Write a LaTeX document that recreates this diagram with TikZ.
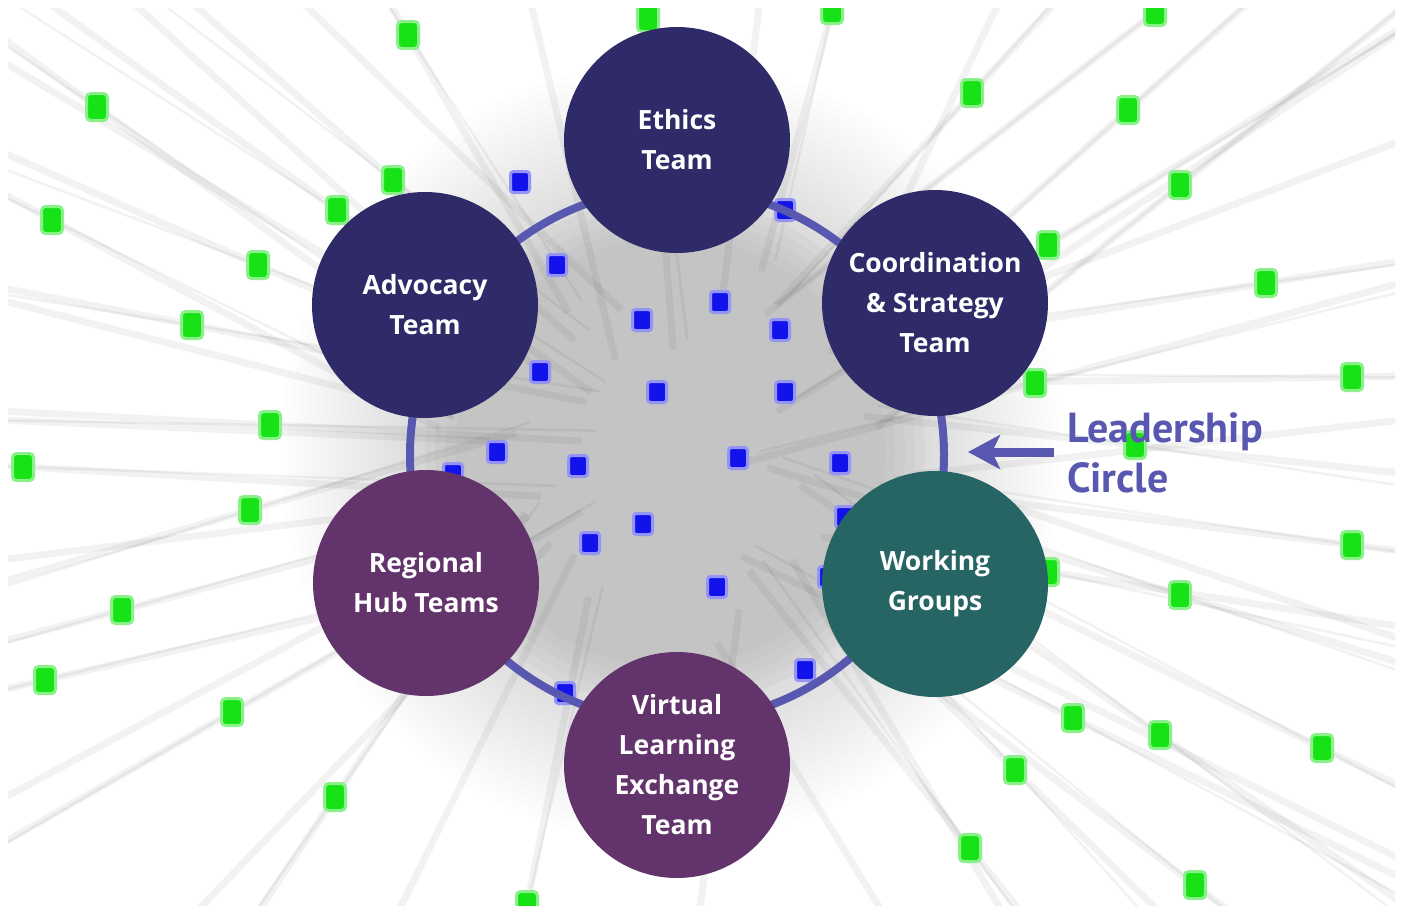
\documentclass[tikz,border=0pt]{standalone}
\usepackage{fontspec}
\setmainfont{PT Sans}
\newfontfamily\teamfont{Open Sans}
\usetikzlibrary{arrows.meta,calc}
\definecolor{navy}{RGB}{46,43,104}
\definecolor{plum}{RGB}{99,52,108}
\definecolor{tealc}{RGB}{38,101,100}
\definecolor{ringc}{RGB}{88,88,176}
\definecolor{greencol}{RGB}{22,226,22}
\definecolor{bluecol}{RGB}{18,18,235}
\tikzset{
  team/.style={circle, minimum size=226pt, inner sep=0pt, text=white, align=center,
    font=\teamfont\bfseries\fontsize{26.5}{40}\selectfont},
  gd/.style={rectangle, fill=greencol, minimum width=21pt, minimum height=27pt, inner sep=0pt,
    rounded corners=4pt, draw=greencol!50!white, line width=3pt},
  bd/.style={rectangle, fill=bluecol, minimum width=19pt, minimum height=21pt, inner sep=0pt,
    rounded corners=3pt, draw=bluecol!45!white, line width=3pt},
  bgline/.style={draw=black, draw opacity=0.05, line width=7pt},
  bglinethin/.style={draw=black, draw opacity=0.05, line width=2.5pt},
  blobring/.style={fill=black, fill opacity=0.006},
  blobcore/.style={fill=black, fill opacity=0.018},
  ringline/.style={draw=ringc, line width=8pt},
  leadarrow/.style={draw=ringc, line width=9pt, -{Stealth[length=32pt,width=34pt,inset=8pt]}},
  leadtext/.style={text=ringc, inner sep=0pt, font=\bfseries\fontsize{42}{50}\selectfont}
}
\begin{document}
\begin{tikzpicture}[x=1pt,y=-1pt]
\useasboundingbox (0,0) rectangle (1403,908);
\fill[white] (0,0) rectangle (1403,908);
\begin{scope}
\clip (8,8) rectangle (1395,905);
% soft grey blob in the middle
\coordinate (blobc) at (670,452);
\foreach \r in {390,382,...,250}{\fill[blobring] (blobc) circle[radius=\r pt];}
\foreach \r in {255,245,235,225,215}{\fill[blobcore] (blobc) circle[radius=\r pt];}
% background radiating lines through the green dots
\foreach [count=\i] \gx/\gy in {408/35,648/18,832/10,1155/12,97/107,972/93,1128/110,52/220,393/180,337/210,1180/185,258/265,1048/245,1266/283,192/325,1035/383,1352/377,270/425,23/467,250/510,1352/545,1048/572,1180/595,122/610,45/680,232/712,1073/718,1160/735,1322/748,1015/770,335/797,970/848,1195/885,1135/445,527/905}{
  \pgfmathsetmacro\cx{590+mod(\i*47,180)}
  \pgfmathsetmacro\cy{370+mod(\i*61,170)}
  \draw[bgline] ($(\cx,\cy)!0.3!(\gx,\gy)$) -- ($(\cx,\cy)!2.4!(\gx,\gy)$);
  \draw[bglinethin] ($(\cx+20,\cy-15)!0.3!(\gx,\gy)$) -- ($(\cx+20,\cy-15)!2.4!(\gx,\gy)$);
}
\foreach [count=\i] \ex/\ey in {0/60,130/0,300/0,530/0,760/0,1000/0,1403/140,1403/420,1403/640,1403/860,1000/908,700/908,400/908,0/560,0/800,0/300,200/908,1403/30,880/908,0/420}{
  \pgfmathsetmacro\cx{600+mod(\i*53,160)}
  \pgfmathsetmacro\cy{380+mod(\i*71,150)}
  \draw[bgline] ($(\cx,\cy)!0.3!(\ex,\ey)$) -- (\ex,\ey);
}
% green dots
\foreach [count=\i] \gx/\gy in {408/35,648/18,832/10,1155/12,97/107,972/93,1128/110,52/220,393/180,337/210,1180/185,258/265,1048/245,1266/283,192/325,1035/383,1352/377,270/425,23/467,250/510,1352/545,1048/572,1180/595,122/610,45/680,232/712,1073/718,1160/735,1322/748,1015/770,335/797,970/848,1195/885,1135/445,527/905}{
  \node[gd] (g\i) at (\gx,\gy) {};
}
\end{scope}
% blue dots
\foreach [count=\i] \bx/\by in {520/182,785/210,557/265,720/302,642/320,780/330,540/372,657/392,785/392,497/452,578/466,738/458,840/463,453/474,643/524,590/543,717/587,805/670,565/693,845/517,828/577}{
  \node[bd] (b\i) at (\bx,\by) {};
}
% leadership ring
\coordinate (ringc0) at (677,455);
\draw[ringline] (ringc0) circle[radius=267pt];
% team circles
\node[team, fill=navy] (ethics) at (677,140) {Ethics\\Team};
\node[team, fill=navy] (advocacy) at (425,305) {Advocacy\\Team};
\node[team, fill=navy] (coord) at (935,303) {Coordination\\\&~Strategy\\Team};
\node[team, fill=plum] (regional) at (426,583) {Regional\\Hub Teams};
\node[team, fill=tealc] (working) at (935,584) {Working\\Groups};
\node[team, fill=plum] (virtual) at (677,765) {Virtual\\Learning\\Exchange\\Team};
% label and arrow
\node[leadtext, anchor=base west] (lead1) at (1067,442) {Leadership};
\node[leadtext, anchor=base west] (lead2) at (1067,492) {Circle};
\coordinate (arrtail) at (1054,452);
\coordinate (arrtip) at (968,452);
\draw[leadarrow] (arrtail) -- (arrtip);
\end{tikzpicture}
\end{document}
